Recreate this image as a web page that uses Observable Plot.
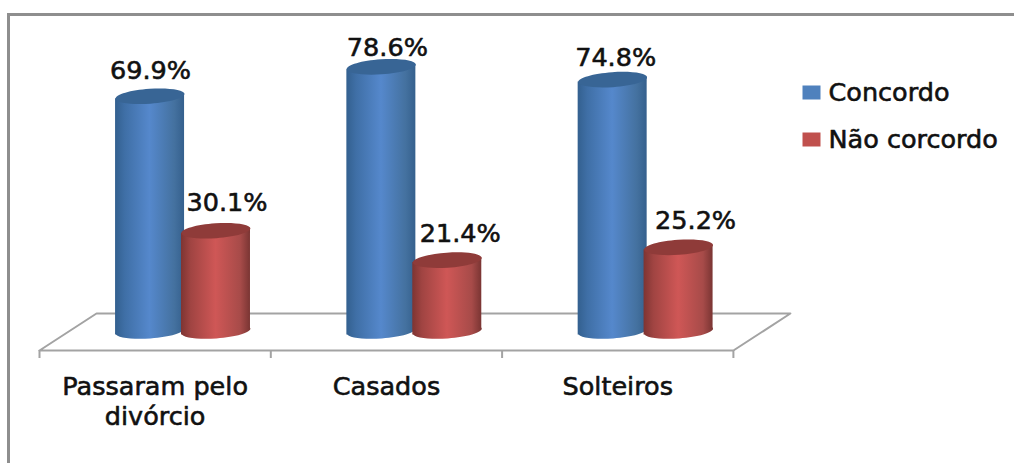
<!DOCTYPE html>
<html>
<head>
<meta charset="utf-8">
<script src="https://cdn.jsdelivr.net/npm/d3@7"></script>
<script src="https://cdn.jsdelivr.net/npm/@observablehq/plot@0.6"></script>
<style>
  html, body { margin: 0; padding: 0; background: #fff; }
  #chart { position: relative; width: 1014px; height: 463px; overflow: hidden; }
  #chart svg { display: block; }
  #frame { position: absolute; left: 7px; top: 13px; right: -6px; bottom: -6px;
           border: 3px solid #8e8e8e; pointer-events: none; }
</style>
</head>
<body>
<div id="chart"><div id="frame"></div></div>
<script>
const categories = ["Passaram pelo\ndivórcio", "Casados", "Solteiros"];
const seriesNames = ["Concordo", "Não corcordo"];
const concordo = [69.9, 78.6, 74.8];
const naoConcordo = [30.1, 21.4, 25.2];

// Scale calibration: one category slot and one percentage point, in pixels.
const W = 1014, H = 463;
const slotPx = 231.3, pctPx = 3.38, originX = 39, originY = 332;
const ux = px => px / slotPx;
const uy = px => px / pctPx;

// Floor of the pseudo-3D plot, in axis units.
const floorFront = uy(-18), floorBack = uy(19), floorDepth = ux(57), tickEnd = uy(-26);

// Half-width and half-height of a cylinder's elliptical section, and its tilt.
const rx = 34.5, ry = 7.5, tilt = 4 * Math.PI / 180;

// Tilted ellipse built from four Bézier arcs (the symbol context has no ellipse()).
const ellipse = {
  draw(ctx) {
    const k = 0.5523, c = Math.cos(tilt), s = Math.sin(tilt);
    const p = (a, b) => [a * rx * c + b * ry * s, -a * rx * s + b * ry * c];
    ctx.moveTo(...p(1, 0));
    ctx.bezierCurveTo(...p(1, k), ...p(k, 1), ...p(0, 1));
    ctx.bezierCurveTo(...p(-k, 1), ...p(-1, k), ...p(-1, 0));
    ctx.bezierCurveTo(...p(-1, -k), ...p(-k, -1), ...p(0, -1));
    ctx.bezierCurveTo(...p(k, -1), ...p(1, -k), ...p(1, 0));
    ctx.closePath();
  }
};
const swatch = {
  draw(ctx) { ctx.rect(-9, -7, 18, 14); }
};

// Horizontal shading that gives the cylinders their roundness.
function gradient(id, stops) {
  const ns = "http://www.w3.org/2000/svg";
  const g = document.createElementNS(ns, "linearGradient");
  g.setAttribute("id", id);
  stops.forEach(([o, col]) => {
    const st = document.createElementNS(ns, "stop");
    st.setAttribute("offset", o);
    st.setAttribute("stop-color", col);
    g.appendChild(st);
  });
  return g;
}
const defs = () => {
  const d = document.createElementNS("http://www.w3.org/2000/svg", "defs");
  d.appendChild(gradient("cylBlue", [[0, "#33608f"], [0.14, "#3f6fa6"], [0.5, "#5588cc"], [0.86, "#44719f"], [1, "#35608d"]]));
  d.appendChild(gradient("cylRed", [[0, "#7e3432"], [0.14, "#a04442"], [0.5, "#cf5756"], [0.86, "#a74b49"], [1, "#7a3533"]]));
  return d;
};

// One series of cylinders: base ellipse, shaded body, darker top cap.
function cylinders(values, offset, gradId, capColor) {
  const rows = values.map((v, i) => ({v, x: i + offset}));
  const lean = uy(rx * Math.tan(tilt));
  const body = rows.flatMap((d, i) => [
    {id: i, x: d.x - ux(rx), y1: -lean, y2: d.v - lean},
    {id: i, x: d.x + ux(rx), y1: lean, y2: d.v + lean}
  ]);
  const fill = `url(#${gradId})`;
  return [
    Plot.dot(rows, {x: "x", y: () => 0, r: 1, dy: -1.5, symbol: ellipse, fill, stroke: "none"}),
    Plot.area(body, {x1: "x", y1: "y1", y2: "y2", z: "id", fill, stroke: "none"}),
    Plot.dot(rows, {x: "x", y: "v", r: 1, symbol: ellipse, fill: capColor, stroke: "none"})
  ];
}

const offsets = [0.478, 0.763];
const labelFont = {fontFamily: "'DejaVu Sans', sans-serif", fontSize: 25.5, fill: "#111", stroke: "#111", strokeWidth: 0.6};

// Data labels sit beside or above their cylinder; each keeps its own small offset.
const labelShiftX = [[0.5, 6, 3], [11, 13, 17]];
const labelLift = [[25, 19, 22], [28, 26, 26]];
const labelRows = [concordo, naoConcordo].flatMap((vals, s) =>
  vals.map((v, i) => ({
    text: v.toFixed(1) + "%",
    x: i + offsets[s] + ux(labelShiftX[s][i]),
    y: v + uy(labelLift[s][i])
  })));

const floorLoop = [
  {x: 0, y: floorFront},
  {x: floorDepth, y: floorBack},
  {x: 3 + floorDepth, y: floorBack},
  {x: 3, y: floorFront},
  {x: 0, y: floorFront}
];

const legendX = ux(811 - originX), legendTextX = ux(828 - originX);
const legendRows = seriesNames.map((name, s) => ({
  name,
  y: uy(originY - [92, 139][s]),
  color: ["#4f81bd", "#c0504d"][s]
}));

const plot = Plot.plot({
  width: W,
  height: H,
  margin: 0,
  style: {background: "#fff", overflow: "visible"},
  x: {domain: [ux(-originX), ux(W - originX)], range: [0, W], axis: null},
  y: {domain: [uy(originY - H), uy(originY)], range: [H, 0], axis: null},
  marks: [
    defs,
    Plot.line(floorLoop, {x: "x", y: "y", stroke: "#a3a3a3", strokeWidth: 2}),
    Plot.ruleX([0, 1, 2, 3], {y1: floorFront, y2: tickEnd, stroke: "#a3a3a3", strokeWidth: 2}),
    ...cylinders(concordo, offsets[0], "cylBlue", "#386595"),
    ...cylinders(naoConcordo, offsets[1], "cylRed", "#8f3b39"),
    Plot.text(labelRows, {x: "x", y: "y", text: "text", ...labelFont}),
    Plot.text(categories, {
      x: (d, i) => i + 0.5,
      y: () => floorFront,
      text: d => d,
      dy: 23,
      lineAnchor: "top",
      lineHeight: 1.18,
      ...labelFont
    }),
    Plot.dot(legendRows, {x: () => legendX, y: "y", r: 1, symbol: swatch, fill: "color", stroke: "none"}),
    Plot.text(legendRows, {x: () => legendTextX, y: "y", text: "name", textAnchor: "start", ...labelFont})
  ]
});
document.getElementById("chart").prepend(plot);
</script>
</body>
</html>
